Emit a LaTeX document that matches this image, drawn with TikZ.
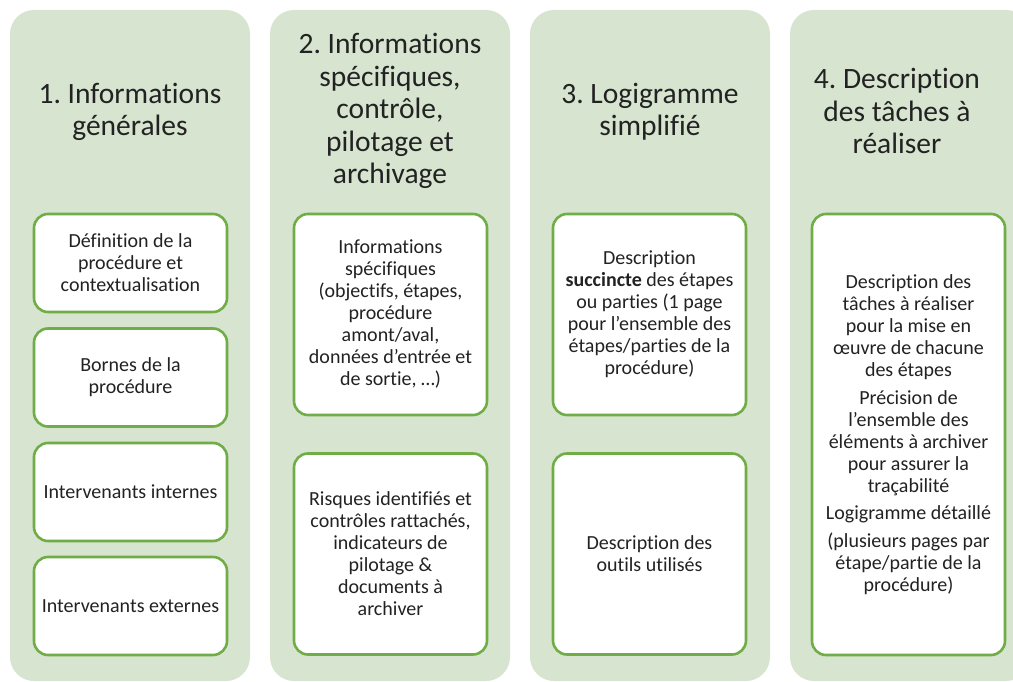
\documentclass[tikz,border=0pt]{standalone}
\usepackage{fontspec}
\setmainfont{Carlito}[Ligatures=CommonOff]
\frenchspacing
\definecolor{colbg}{HTML}{D6E4D0}
\definecolor{boxln}{HTML}{70AD47}
\definecolor{txt}{HTML}{222222}
\begin{document}
\begin{tikzpicture}[x=1pt,y=-1pt,
  column/.style={fill=colbg, draw=none, rounded corners=24pt, minimum width=240pt, minimum height=671pt, inner sep=0pt},
  titletext/.style={align=center, text=txt, font=\fontsize{29.5}{32.4}\selectfont, inner sep=0pt},
  itembox/.style={draw=boxln, line width=2.6pt, fill=white, rounded corners=14pt, minimum width=193pt, inner sep=0pt, align=center, text=txt, font=\fontsize{20}{22}\selectfont},
  smallbox/.style={itembox, minimum height=98pt},
  tallbox/.style={itembox, minimum height=201pt}]
\clip (0,0) rectangle (1013,682);
% columns
\node[column] (c1) at (130,345.5) {};
\node[column] (c2) at (390,345.5) {};
\node[column] (c3) at (650,345.5) {};
\node[column] (c4) at (910,345.5) {};
% titles
\node[titletext] (t1) at (130,112) {1. Informations\\générales};
\node[titletext] (t2) at (390,111) {2. Informations\\spécifiques,\\contrôle,\\pilotage et\\archivage};
\node[titletext] (t3) at (650,112) {3. Logigramme\\simplifié};
\node[titletext] (t4) at (897,111) {4. Description\\des tâches à\\réaliser};
% column 1
\node[smallbox] (b11) at (130.5,263) {Définition de la\\procédure et\\contextualisation};
\node[smallbox] (b12) at (130.5,377.5) {Bornes de la\\procédure};
\node[smallbox] (b13) at (130.5,492) {Intervenants internes};
\node[smallbox] (b14) at (130.5,606) {Intervenants externes};
% column 2
\node[tallbox] (b21) at (390.5,314.5) {Informations\\spécifiques\\(objectifs, étapes,\\procédure\\amont/aval,\\données d’entrée et\\de sortie, …)};
\node[tallbox] (b22) at (390.5,554) {Risques identifiés et\\contrôles rattachés,\\indicateurs de\\pilotage \&\\documents à\\archiver};
% column 3
\node[tallbox] (b31) at (649.5,314.5) {Description\\\textbf{succincte} des étapes\\ou parties (1 page\\pour l’ensemble des\\étapes/parties de la\\procédure)};
\node[tallbox] (b32) at (649.5,554) {Description des\\outils utilisés};
% column 4
\node[itembox, minimum height=441pt] (b41) at (908.5,434.5) {Description des\\tâches à réaliser\\pour la mise en\\œuvre de chacune\\des étapes\\[5.5pt]Précision de\\l’ensemble des\\éléments à archiver\\pour assurer la\\traçabilité\\[5.5pt]Logigramme détaillé\\[5.5pt](plusieurs pages par\\étape/partie de la\\procédure)};
\end{tikzpicture}
\end{document}
